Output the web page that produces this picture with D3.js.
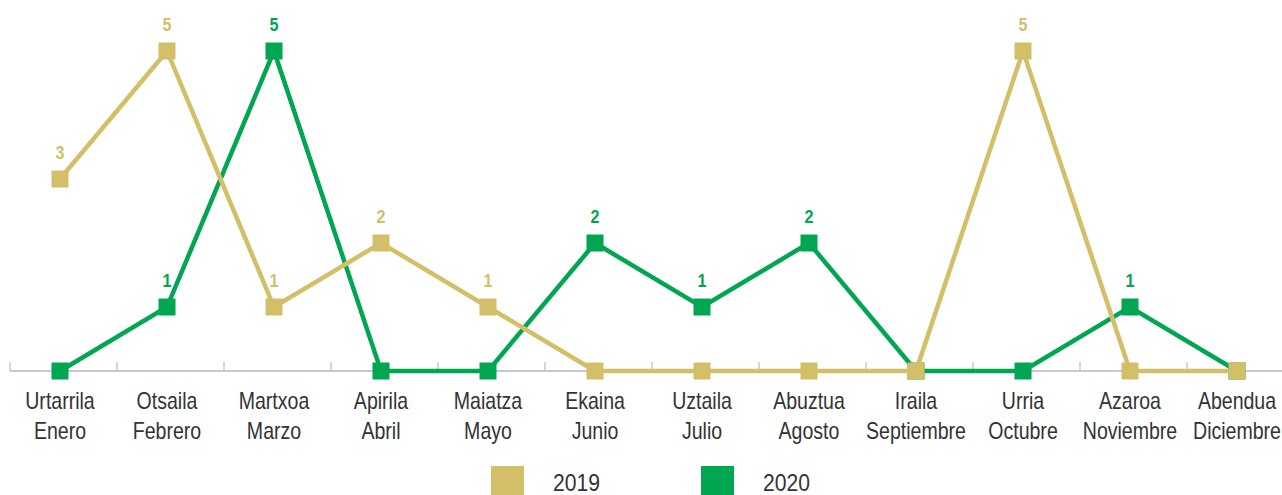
<!DOCTYPE html>
<html>
<head>
<meta charset="utf-8">
<script src="https://cdn.jsdelivr.net/npm/d3@7"></script>
<style>
  body { margin: 0; background: #fff; }
  svg { display: block; }
  text { font-family: "Liberation Sans", Arial, sans-serif; }
</style>
</head>
<body>
<div id="chart"></div>
<script>
// month labels (basque / spanish)
var monthsEu = ["Urtarrila", "Otsaila", "Martxoa", "Apirila", "Maiatza", "Ekaina", "Uztaila", "Abuztua", "Iraila", "Urria", "Azaroa", "Abendua"];
var monthsEs = ["Enero", "Febrero", "Marzo", "Abril", "Mayo", "Junio", "Julio", "Agosto", "Septiembre", "Octubre", "Noviembre", "Diciembre"];

var values2019 = [3, 5, 1, 2, 1, 0, 0, 0, 0, 5, 0, 0];
var values2020 = [0, 1, 5, 0, 0, 2, 1, 2, 0, 0, 1, 0];

var seriesNames = ["2019", "2020"];
var colors = { "2019": "#d2bf67", "2020": "#00a651" };

var width = 1282, height = 495;
var condense = 0.85; // fake a condensed font

var svg = d3.select("#chart")
    .append("svg")
    .attr("width", width)
    .attr("height", height);

// x: band scale, points at band centers
var x = d3.scaleBand()
    .domain(d3.range(12))
    .range([6.5, 1290.5]);

var y = d3.scaleLinear()
    .domain([0, 5])
    .range([371, 51]);

var cx = function (i) { return x(i) + x.bandwidth() / 2; };

// axis line
svg.append("line")
    .attr("x1", 10).attr("x2", width)
    .attr("y1", y(0)).attr("y2", y(0))
    .attr("stroke", "#c8c8c8")
    .attr("stroke-width", 2);

// tick separators between months
svg.selectAll(".tick-sep")
    .data(d3.range(12))
    .enter()
    .append("line")
    .attr("x1", function (d) { return x(d) + 3.5; })
    .attr("x2", function (d) { return x(d) + 3.5; })
    .attr("y1", y(0) - 9)
    .attr("y2", y(0))
    .attr("stroke", "#c8c8c8")
    .attr("stroke-width", 1.5);

// month labels
var labels = svg.selectAll(".month")
    .data(d3.range(12))
    .enter()
    .append("g")
    .attr("transform", function (d) { return "translate(" + cx(d) + ",0) scale(" + condense + ",1)"; })
    .append("text")
    .attr("text-anchor", "middle")
    .attr("fill", "#333")
    .style("font-size", "23px");
labels.append("tspan")
    .attr("x", 0)
    .attr("y", 409)
    .text(function (d) { return monthsEu[d]; });
labels.append("tspan")
    .attr("x", 0)
    .attr("y", 439)
    .text(function (d) { return monthsEs[d]; });

var line = d3.line()
    .x(function (d, i) { return cx(i); })
    .y(function (d) { return y(d); });

var data = { "2019": values2019, "2020": values2020 };
var size = 17;

// draw 2020 first so 2019 sits on top
["2020", "2019"].forEach(function (key) {
    var vals = data[key];
    var pts = vals.map(function (v, i) { return { i: i, v: v }; });
    var g = svg.append("g");

    g.append("path")
        .datum(vals)
        .attr("d", line)
        .attr("fill", "none")
        .attr("stroke", colors[key])
        .attr("stroke-width", 4.5)
        .attr("stroke-linejoin", "miter");

    g.selectAll("rect")
        .data(pts)
        .enter()
        .append("rect")
        .attr("x", function (d) { return cx(d.i) - size / 2; })
        .attr("y", function (d) { return y(d.v) - size / 2; })
        .attr("width", size)
        .attr("height", size)
        .attr("fill", colors[key]);

    g.selectAll(".val")
        .data(pts.filter(function (d) { return d.v > 0; }))
        .enter()
        .append("g")
        .attr("transform", function (d) { return "translate(" + cx(d.i) + "," + (y(d.v) - 20) + ") scale(" + condense + ",1)"; })
        .append("text")
        .attr("text-anchor", "middle")
        .attr("fill", colors[key])
        .style("font-size", "19px")
        .style("font-weight", "bold")
        .text(function (d) { return d.v; });
});

// legend
var legend = svg.selectAll(".legend")
    .data(seriesNames)
    .enter()
    .append("g")
    .attr("transform", function (d, i) { return "translate(" + (491 + i * 210) + ",0)"; });
legend.append("rect")
    .attr("x", 0).attr("y", 466)
    .attr("width", 33).attr("height", 33)
    .attr("fill", function (d) { return colors[d]; });
legend.append("g")
    .attr("transform", "translate(62,491) scale(0.88,1)")
    .append("text")
    .attr("fill", "#333")
    .style("font-size", "24px")
    .text(function (d) { return d; });
</script>
</body>
</html>
